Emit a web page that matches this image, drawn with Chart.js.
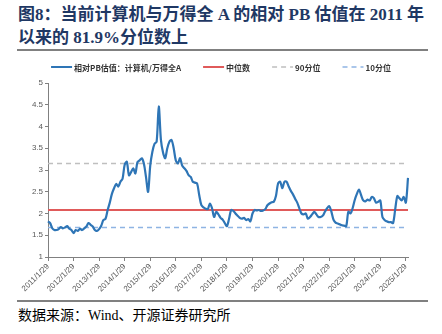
<!DOCTYPE html>
<html><head><meta charset="utf-8">
<script src="https://cdn.jsdelivr.net/npm/chart.js@4"></script>
<style>
html,body{margin:0;padding:0;background:#fff;width:442px;height:334px;overflow:hidden;position:relative}
#title{position:absolute;left:18px;top:3px;font-family:"Liberation Serif","Noto Sans CJK SC";font-weight:bold;font-size:17px;line-height:23px;color:#1F3864;white-space:nowrap}
.rule{position:absolute;left:17px;width:411px;height:2px;background:#808080}
#src{position:absolute;left:18px;top:306px;font-family:"Liberation Serif","Noto Sans CJK SC";font-size:14px;line-height:20px;color:#000;white-space:nowrap}
#wrap{position:absolute;left:0;top:52px;width:442px;height:248px}
</style></head>
<body>
<div id="title">图8：当前计算机与万得全 A 的相对 PB 估值在 2011 年<br>以来的 81.9%分位数上</div>
<div class="rule" style="top:49px"></div>
<div id="wrap"><canvas id="c" width="442" height="248"></canvas></div>
<div class="rule" style="top:300px"></div>
<div id="src">数据来源：Wind、开源证券研究所</div>
<script>
// monthly observations, 2011/1 .. 2025/2
const startYear = 2011;
const pbRelative = [
  1.82,1.78,1.66,1.62,1.62,1.64,1.69,1.66,1.68,1.71,1.65,1.62,
  1.55,1.62,1.60,1.65,1.62,1.66,1.70,1.78,1.74,1.70,1.62,1.60,
  1.64,1.72,1.85,1.88,2.08,2.25,2.45,2.58,2.68,2.62,2.73,2.80,
  3.12,3.19,2.88,2.95,3.04,2.92,3.18,3.22,3.27,3.15,2.84,2.50,
  3.10,3.42,3.60,3.65,4.46,3.70,3.40,3.27,3.50,3.65,3.69,3.50,
  3.22,3.15,3.27,3.10,3.04,2.98,2.88,2.84,2.73,2.71,2.69,2.42,
  2.19,2.14,2.11,2.10,2.23,2.12,1.92,2.04,1.98,1.90,1.86,1.78,
  1.71,1.88,2.08,2.06,2.00,1.95,1.90,1.88,1.90,1.85,1.87,1.82,
  2.00,2.08,2.07,2.08,2.06,2.07,2.10,2.19,2.23,2.26,2.27,2.40,
  2.69,2.73,2.58,2.73,2.73,2.62,2.52,2.44,2.34,2.25,2.12,2.00,
  1.98,2.00,1.88,1.92,1.98,2.04,1.98,1.92,1.92,1.95,2.04,2.12,
  2.17,2.05,1.86,1.79,1.77,1.75,1.73,1.72,1.71,2.04,2.00,2.12,
  2.31,2.45,2.55,2.42,2.30,2.28,2.32,2.30,2.38,2.35,2.25,2.27,
  2.30,1.92,1.85,1.82,1.80,1.80,1.78,2.10,2.40,2.35,2.30,2.38,
  2.25,2.82
];
const medianValue = 2.08;
const p90Value = 3.15;
const p10Value = 1.68;
const yTicks = [1,1.5,2,2.5,3,3.5,4,4.5,5];
const seriesNames = ['相对PB估值：计算机/万得全A','中位数','90分位','10分位'];

const dateLabels = pbRelative.map((_, i) => {
  const y = startYear + Math.floor(i / 12);
  const m = (i % 12) + 1;
  return y + '/' + m + '/29';
});
const first = dateLabels[0], last = dateLabels[dateLabels.length - 1];

const legendPlugin = {
  id: 'customLegend',
  afterDraw(chart) {
    const ctx = chart.ctx;
    ctx.save();
    ctx.font = 'bold 8px "Noto Sans CJK SC"';
    ctx.textBaseline = 'middle';
    const lineW = 21, gap = 2, spacing = 22, cy = 15;
    const ds = chart.data.datasets;
    const widths = ds.map(d => lineW + gap + ctx.measureText(d.label).width);
    const total = widths.reduce((a, b) => a + b, 0) + spacing * (ds.length - 1);
    let x = (chart.width - total) / 2;
    ds.forEach((d, i) => {
      ctx.beginPath();
      ctx.strokeStyle = d.borderColor;
      ctx.lineWidth = d.legendWidth;
      ctx.setLineDash(d.borderDash || []);
      ctx.moveTo(x, cy); ctx.lineTo(x + lineW, cy);
      ctx.stroke();
      ctx.setLineDash([]);
      ctx.fillStyle = '#333';
      ctx.fillText(d.label, x + lineW + gap, cy + 0.5);
      x += widths[i] + spacing;
    });
    ctx.restore();
  }
};

new Chart(document.getElementById('c'), {
  type: 'line',
  data: {
    labels: dateLabels,
    datasets: [
      {label: seriesNames[0], data: pbRelative, borderColor: '#2E75B6', borderWidth: 2.2, legendWidth: 2, pointRadius: 0, tension: 0.3},
      {label: seriesNames[1], data: [{x: first, y: medianValue}, {x: last, y: medianValue}], borderColor: '#E05A5A', borderWidth: 2, legendWidth: 2, pointRadius: 0},
      {label: seriesNames[2], data: [{x: first, y: p90Value}, {x: last, y: p90Value}], borderColor: '#BFBFBF', borderWidth: 1.5, legendWidth: 1.5, borderDash: [5, 4], pointRadius: 0},
      {label: seriesNames[3], data: [{x: first, y: p10Value}, {x: last, y: p10Value}], borderColor: '#8EB4E3', borderWidth: 1.5, legendWidth: 1.5, borderDash: [5, 4], pointRadius: 0}
    ]
  },
  options: {
    responsive: false,
    animation: false,
    layout: {padding: {top: 31, right: 34, left: 0, bottom: 0}},
    plugins: {legend: {display: false}, tooltip: {enabled: false}},
    scales: {
      x: {
        type: 'category',
        offset: false,
        grid: {drawOnChartArea: false, drawTicks: true, tickLength: 4, color: '#808080'},
        border: {color: '#808080', width: 1},
        ticks: {
          autoSkip: false, maxRotation: 45, minRotation: 45, padding: 1,
          font: {size: 8, family: 'Arial, "Liberation Sans"'}, color: '#595959',
          callback: function(v, i) { return i % 12 === 0 ? dateLabels[i] : null; }
        },
        afterFit: s => { s.height = 43; }
      },
      y: {
        min: 1, max: 5,
        afterBuildTicks: s => { s.ticks = yTicks.map(v => ({value: v})); },
        grid: {drawOnChartArea: false, drawTicks: true, tickLength: 3, color: '#808080'},
        border: {color: '#808080', width: 1},
        ticks: {font: {size: 8, family: 'Arial, "Liberation Sans"'}, color: '#595959', padding: 2, callback: v => String(v)},
        afterFit: s => { s.width = 48; }
      }
    }
  },
  plugins: [legendPlugin]
});
</script>
</body></html>
